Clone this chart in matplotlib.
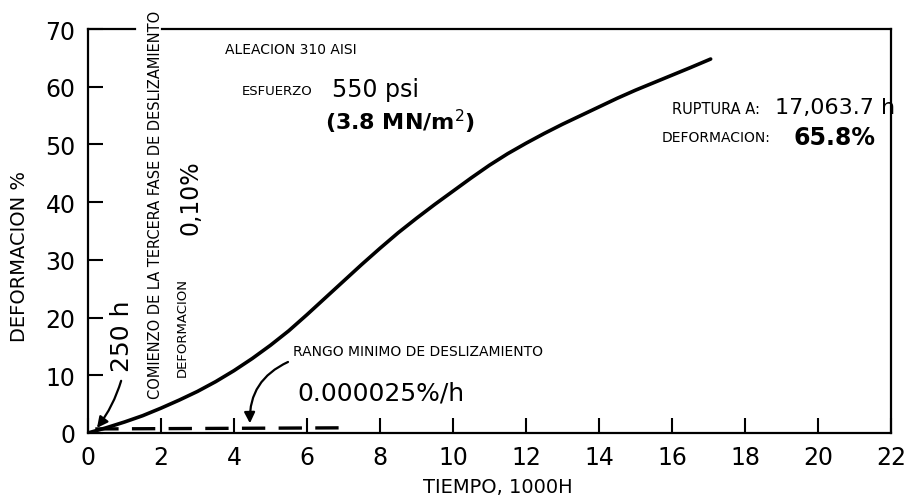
import matplotlib
matplotlib.use("Agg")
import matplotlib.pyplot as plt

# ── Data (time in 1000 h, strain in %) ──────────────────────────────────────
tiempo = [0, 0.5, 1.0, 1.5, 2.0, 2.5, 3.0, 3.5, 4.0, 4.5, 5.0, 5.5, 6.0,
          6.5, 7.0, 7.5, 8.0, 8.5, 9.0, 9.5, 10.0, 10.5, 11.0, 11.5, 12.0,
          12.5, 13.0, 13.5, 14.0, 14.5, 15.0, 15.5, 16.0, 16.5, 17.06]
deformacion = [0, 0.9, 1.9, 3.0, 4.3, 5.7, 7.2, 8.9, 10.8, 12.9, 15.2, 17.7,
               20.5, 23.4, 26.3, 29.2, 32.0, 34.7, 37.2, 39.6, 41.9, 44.2,
               46.4, 48.4, 50.2, 51.9, 53.5, 55.0, 56.5, 58.0, 59.4, 60.7,
               62.0, 63.3, 64.8]

# minimum creep-rate line (dashed, near zero)
rango_x = [0.2, 7.2]
rango_y = [0.7, 0.9]

x_ticks = [0, 2, 4, 6, 8, 10, 12, 14, 16, 18, 20, 22]
y_ticks = [0, 10, 20, 30, 40, 50, 60, 70]

plt.rcParams["font.family"] = "DejaVu Sans"

fig = plt.figure(figsize=(9.06, 5.02), dpi=100)
ax = fig.add_axes([0.0971, 0.1355, 0.8863, 0.8047])

ax.plot(tiempo, deformacion, color="black", lw=2.6, solid_capstyle="round",
        solid_joinstyle="round")
ax.plot(rango_x, rango_y, color="black", lw=2.4, ls=(0, (7, 4)))

ax.set_xlim(0, 22)
ax.set_ylim(0, 70)
ax.set_xticks(x_ticks)
ax.set_yticks(y_ticks)
ax.tick_params(axis="both", direction="in", length=11, width=1.5,
               labelsize=17, pad=9, colors="black")

for side in ["left", "right", "bottom"]:
    ax.spines[side].set_linewidth(1.6)
ax.spines["top"].set_visible(False)
# top border has a gap where the vertical note crosses it
ax.plot([0, 0.0585], [1, 1], transform=ax.transAxes, color="black", lw=1.6,
        clip_on=False)
ax.plot([0.092, 1], [1, 1], transform=ax.transAxes, color="black", lw=1.6,
        clip_on=False)

# axis titles
fig.text(0.022, 1 - 257 / 502, "DEFORMACION %", rotation=90, ha="center",
         va="center", fontsize=14)
fig.text(498 / 906, 1 - 488 / 502, "TIEMPO, 1000H", ha="center", va="center",
         fontsize=14)

# ── Annotations ─────────────────────────────────────────────────────────────
ax.text(3.75, 66.5, "ALEACION 310 AISI", fontsize=10, va="center")
ax.text(4.22, 59.4, "ESFUERZO", fontsize=9.5, va="center")
ax.text(6.68, 59.6, "550 psi", fontsize=17, va="center")
ax.text(6.49, 54.1, "(3.8 MN/m$^2$)", fontsize=16, va="center",
        fontweight="bold")

ax.text(15.99, 56.3, "RUPTURA A:", fontsize=10.5, va="center")
ax.text(18.82, 56.5, "17,063.7 h", fontsize=16, va="center")
ax.text(15.73, 51.3, "DEFORMACION:", fontsize=10, va="center")
ax.text(19.32, 51.3, "65.8%", fontsize=17, va="center", fontweight="bold")

ax.text(1.84, 39.7, "COMIENZO DE LA TERCERA FASE DE DESLIZAMIENTO",
        rotation=90, fontsize=10.5, ha="center", va="center", clip_on=False)
ax.text(2.58, 18.5, "DEFORMACION", rotation=90, fontsize=9.5,
        ha="center", va="center")
ax.text(2.82, 41.0, "0,10%", rotation=90, fontsize=17,
        ha="center", va="center")

ax.text(0.93, 17.0, "250 h", rotation=90, fontsize=18,
        ha="center", va="center")
ax.annotate("", xy=(0.2, 0.5), xytext=(0.93, 9.5),
            arrowprops=dict(arrowstyle="-|>", color="black", lw=1.6,
                            mutation_scale=16,
                            connectionstyle="arc3,rad=-0.1"))

ax.text(5.62, 14.2, "RANGO MINIMO DE DESLIZAMIENTO", fontsize=10, va="center")
ax.text(5.73, 7.1, "0.000025%/h", fontsize=18, va="center")
ax.annotate("", xy=(4.44, 1.2), xytext=(5.55, 12.5),
            arrowprops=dict(arrowstyle="-|>", color="black", lw=1.6,
                            mutation_scale=16,
                            connectionstyle="arc3,rad=0.35"))

fig.savefig("out.png", dpi=100)
